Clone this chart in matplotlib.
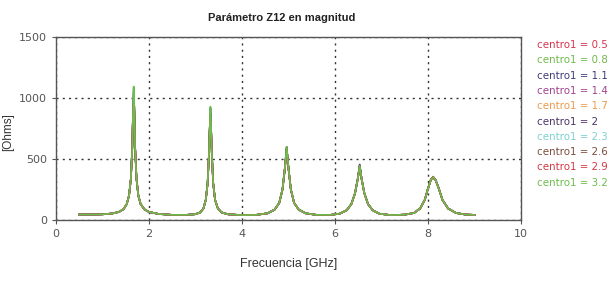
import numpy as np
import matplotlib.pyplot as plt

# frecuencia [GHz] y magnitud base de Z12 [Ohms]
freq = [0.5, 0.8, 1.0, 1.2, 1.35, 1.45, 1.52, 1.57, 1.61, 1.64, 1.66, 1.67, 1.68, 1.70, 1.73,
        1.77, 1.82, 1.9, 2.0, 2.2, 2.5, 2.8, 3.0, 3.1, 3.17, 3.22, 3.26, 3.29, 3.31, 3.32,
        3.33, 3.35, 3.38, 3.42, 3.48, 3.56, 3.7, 4.0, 4.3, 4.55, 4.7, 4.8, 4.87, 4.92, 4.96,
        5.0, 5.05, 5.12, 5.22, 5.37, 5.6, 5.9, 6.1, 6.25, 6.35, 6.43, 6.49, 6.53, 6.57, 6.63,
        6.71, 6.81, 6.95, 7.2, 7.5, 7.7, 7.83, 7.93, 8.0, 8.06, 8.11, 8.16, 8.23, 8.31, 8.43,
        8.6, 8.8, 9.0]
z12 = [45, 45, 47, 53, 66, 88, 130, 200, 340, 600, 950, 1095, 950, 600, 340,
       200, 130, 88, 66, 50, 42, 42, 48, 62, 95, 165, 300, 550, 800, 920,
       800, 550, 300, 165, 95, 62, 47, 40, 42, 55, 85, 140, 250, 420, 600,
       420, 250, 140, 85, 55, 42, 42, 52, 80, 130, 220, 340, 445, 340, 220,
       130, 80, 52, 40, 44, 58, 95, 165, 260, 330, 352, 330, 260, 165, 95,
       58, 45, 42]

peak_freqs = [1.67, 3.32, 4.96, 6.53, 8.11]

labels = ["centro1 = 0.5", "centro1 = 0.8", "centro1 = 1.1", "centro1 = 1.4", "centro1 = 1.7",
          "centro1 = 2", "centro1 = 2.3", "centro1 = 2.6", "centro1 = 2.9", "centro1 = 3.2"]
colors = ["#d8344f", "#72b84a", "#3d3d78", "#a0438f", "#ec9a4e",
          "#4c3368", "#7fd0cf", "#7d4c3c", "#d43a44", "#6cbd4e"]
# altura de cada pico por serie
peaks = [
    [1000, 900, 590, 440, 345],
    [1080, 910, 600, 445, 350],
    [1050, 880, 580, 450, 355],
    [950, 850, 570, 440, 348],
    [780, 800, 560, 435, 340],
    [1020, 920, 595, 455, 352],
    [1060, 905, 585, 442, 346],
    [990, 870, 600, 448, 350],
    [820, 820, 575, 438, 356],
    [1095, 930, 600, 445, 352],
]

fig = plt.figure(figsize=(6.13, 2.81), dpi=100)
ax = fig.add_axes([0.0914, 0.217, 0.7586, 0.651])

f = np.array(freq)
idx = [int(np.argmin(np.abs(f - p))) for p in peak_freqs]
for lab, col, pk in zip(labels, colors, peaks):
    y = np.array(z12, dtype=float)
    for i, h in zip(idx, pk):
        y[i] = h
    ax.plot(f, y, color=col, lw=1.2)

ax.set_xlim(0, 10)
ax.set_ylim(0, 1500)
ax.set_xticks([0, 2, 4, 6, 8, 10])
ax.set_yticks([0, 500, 1000, 1500])
ax.grid(True, linestyle=(0, (1.5, 3)), color="#333333", lw=1.0)
for s in ax.spines.values():
    s.set_color("#555555")
    s.set_linewidth(1.0)
ax.tick_params(colors="#555555", labelcolor="#555555", labelsize=8, length=3, width=0.8)

fig.suptitle("Parámetro Z12 en magnitud", x=0.46, y=0.955, fontsize=8,
             fontweight="bold", family="Liberation Sans", color="#222222")
ax.set_xlabel("Frecuencia [GHz]", fontsize=9, family="Liberation Sans", color="#333333", labelpad=14)
fig.text(0.013, 0.53, "[Ohms]", rotation=90, ha="center", va="center", fontsize=8.5,
         family="Liberation Sans", color="#333333")

for k, (lab, col) in enumerate(zip(labels, colors)):
    fig.text(0.876, 0.84 - k * 0.0545, lab, color=col, fontsize=7.4, va="center")

fig.savefig("out.png", dpi=100, facecolor="white")
